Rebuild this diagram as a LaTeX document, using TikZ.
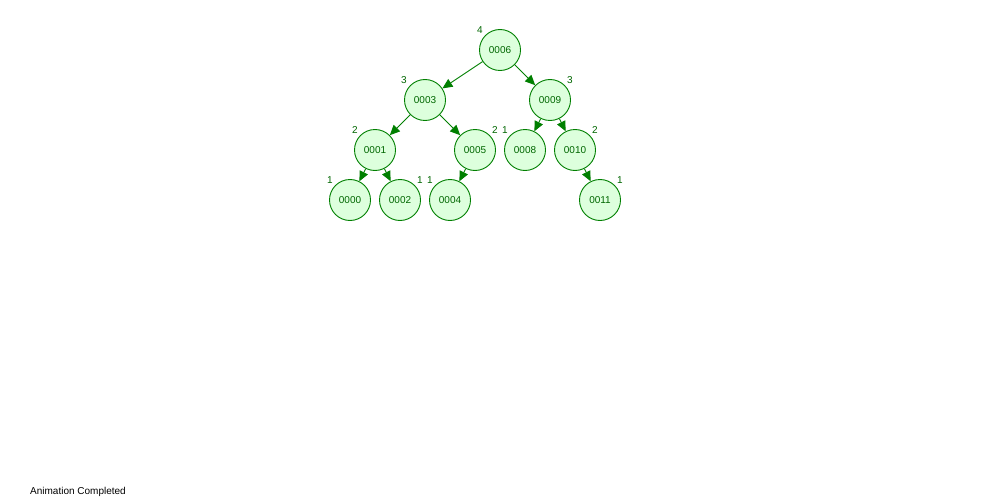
\documentclass[tikz,border=0pt]{standalone}
\usepackage{fontspec}
\setmainfont{Liberation Sans}
\usetikzlibrary{arrows.meta}
\definecolor{treeline}{HTML}{007F00}
\definecolor{treefill}{HTML}{DDFFDD}
\definecolor{treetext}{HTML}{006600}
\begin{document}
\begin{tikzpicture}[x=1pt,y=-1pt,
  tnode/.style={circle,draw=treeline,fill=treefill,line width=0.9pt,minimum size=41pt,inner sep=0pt,font=\fontsize{10}{12}\selectfont,text=treetext},
  hlabel/.style={font=\fontsize{10}{12}\selectfont,text=treetext,inner sep=0pt},
  tedge/.style={draw=treeline,line width=0.9pt,-{Triangle[length=10pt,width=9pt]}}]
\useasboundingbox (0,0) rectangle (1000,500);
\node[tnode] (n6) at (500,50) {0006};
\node[tnode] (n3) at (425,100) {0003};
\node[tnode] (n9) at (550,100) {0009};
\node[tnode] (n1) at (375,150) {0001};
\node[tnode] (n5) at (475,150) {0005};
\node[tnode] (n8) at (525,150) {0008};
\node[tnode] (n10) at (575,150) {0010};
\node[tnode] (n0) at (350,200) {0000};
\node[tnode] (n2) at (400,200) {0002};
\node[tnode] (n4) at (450,200) {0004};
\node[tnode] (n11) at (600,200) {0011};
\draw[tedge] (n6) -- (n3);
\draw[tedge] (n6) -- (n9);
\draw[tedge] (n3) -- (n1);
\draw[tedge] (n3) -- (n5);
\draw[tedge] (n9) -- (n8);
\draw[tedge] (n9) -- (n10);
\draw[tedge] (n1) -- (n0);
\draw[tedge] (n1) -- (n2);
\draw[tedge] (n5) -- (n4);
\draw[tedge] (n10) -- (n11);
\node[hlabel] (h6) at (480,30) {4};
\node[hlabel] (h3) at (404,80) {3};
\node[hlabel] (h9) at (570,80) {3};
\node[hlabel] (h1) at (355,130) {2};
\node[hlabel] (h5) at (495,130) {2};
\node[hlabel] (h8) at (505,130) {1};
\node[hlabel] (h10) at (595,130) {2};
\node[hlabel] (h0) at (330,180) {1};
\node[hlabel] (h2) at (420,180) {1};
\node[hlabel] (h4) at (430,180) {1};
\node[hlabel] (h11) at (620,180) {1};
\node[font=\fontsize{10}{12}\selectfont,anchor=west,inner sep=0pt] (status) at (30,492) {Animation Completed};
\end{tikzpicture}
\end{document}
